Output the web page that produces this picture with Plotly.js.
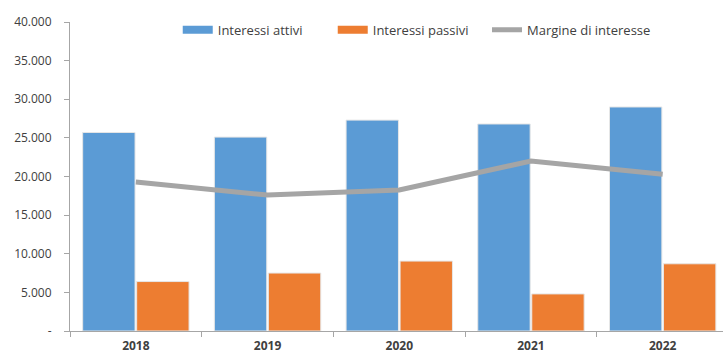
<!DOCTYPE html>
<html>
<head>
<meta charset="utf-8">
<script src="https://cdn.plot.ly/plotly-3.0.1.min.js"></script>
<style>
  html, body { margin: 0; padding: 0; background: #fff; }
  #chart { width: 723px; height: 356px; }
</style>
</head>
<body>
<div id="chart"></div>
<script>
// Years on the category axis
const years = ['2018', '2019', '2020', '2021', '2022'];

// Interest income, interest expense and net interest margin
const interessiAttivi = [25700, 25100, 27300, 26800, 29000];
const interessiPassivi = [6400, 7500, 9050, 4800, 8700];
const margineInteresse = [19300, 17600, 18250, 22000, 20300];

// Y axis tick values and their Italian-formatted labels
const yTickVals = [0, 5000, 10000, 15000, 20000, 25000, 30000, 35000, 40000];
const yTickText = ['-', '5.000', '10.000', '15.000', '20.000', '25.000', '30.000', '35.000', '40.000'];

const BLUE = '#5b9bd5', ORANGE = '#ed7d31', GREY = '#a5a5a5';
const font = { family: 'Open Sans, Liberation Sans, sans-serif', size: 12, color: '#404040' };
const legendFont = { family: font.family, size: 13, color: '#404040' };

const traces = [
  {
    type: 'bar', name: 'Interessi attivi', x: years, y: interessiAttivi, legendgroup: 'a',
    marker: { color: BLUE, line: { color: '#e6e6e6', width: 1 } },
    showlegend: false, hoverinfo: 'skip'
  },
  {
    type: 'bar', name: 'Interessi passivi', x: years, y: interessiPassivi, legendgroup: 'p',
    marker: { color: ORANGE, line: { color: '#e6e6e6', width: 1 } },
    showlegend: false, hoverinfo: 'skip'
  },
  {
    type: 'scatter', mode: 'lines', name: 'Margine di interesse', x: years, y: margineInteresse,
    line: { color: GREY, width: 5 }, legend: 'legend2',
    hoverinfo: 'skip'
  },
  // Legend entries for the bars, drawn as wide flat swatches
  { type: 'scatter', mode: 'lines', name: 'Interessi attivi', x: [null], y: [null],
    legendgroup: 'a', line: { color: BLUE, width: 8 } },
  { type: 'scatter', mode: 'lines', name: 'Interessi passivi', x: [null], y: [null],
    legendgroup: 'p', line: { color: ORANGE, width: 8 } }
];

const layout = {
  width: 723, height: 356,
  margin: { l: 70, r: 0, t: 22, b: 25 },
  paper_bgcolor: '#ffffff', plot_bgcolor: '#ffffff',
  font: font,
  showlegend: true,
  barmode: 'group', bargap: 0.18, bargroupgap: 0.03,
  legend: {
    orientation: 'h', x: 0.165, y: 0.975, xanchor: 'left', yanchor: 'middle',
    font: legendFont,
    itemwidth: 30, entrywidth: 110, entrywidthmode: 'pixels',
    traceorder: 'normal', bgcolor: 'rgba(0,0,0,0)'
  },
  legend2: {
    orientation: 'h', x: 0.6386, y: 0.975, xanchor: 'left', yanchor: 'middle',
    font: legendFont,
    itemwidth: 30, bgcolor: 'rgba(0,0,0,0)'
  },
  xaxis: {
    type: 'category', range: [-0.5, 4.458],
    showline: true, linecolor: '#a6a6a6', linewidth: 1,
    ticks: 'outside', tickson: 'boundaries', ticklen: 5, tickcolor: '#a6a6a6',
    ticklabelstandoff: 4,
    showgrid: false, zeroline: false,
    tickfont: { family: font.family, size: 12, color: '#404040', weight: 'bold' },
    fixedrange: true
  },
  yaxis: {
    range: [0, 40000],
    tickvals: yTickVals, ticktext: yTickText,
    showline: true, linecolor: '#a6a6a6', linewidth: 1,
    ticks: 'outside', ticklen: 5, tickcolor: '#a6a6a6',
    ticklabelstandoff: 10,
    showgrid: false, zeroline: false,
    tickfont: { family: font.family, size: 12, color: '#404040' },
    fixedrange: true
  }
};

Plotly.newPlot('chart', traces, layout, { staticPlot: true, displayModeBar: false });
</script>
</body>
</html>
